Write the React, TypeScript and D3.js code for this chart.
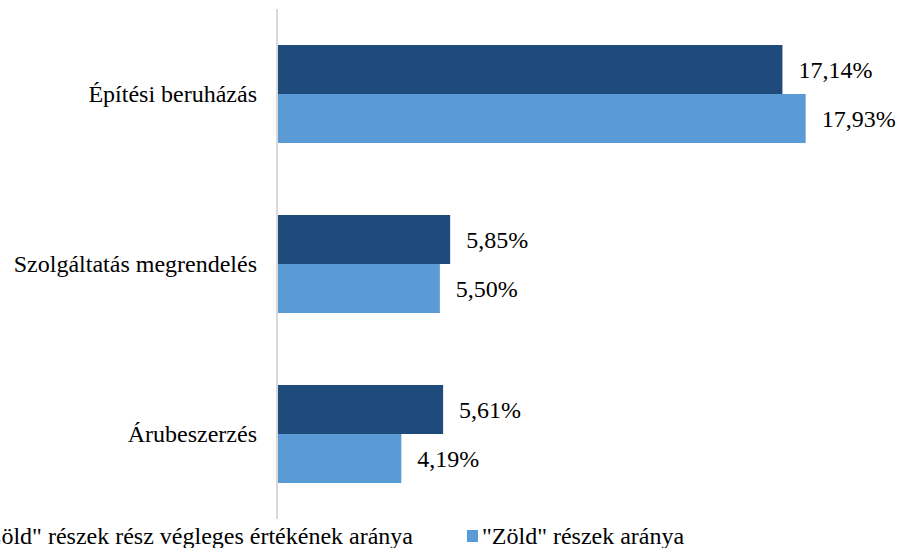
import * as React from 'react';
import * as d3 from 'd3';

const categories = ['Építési beruházás', 'Szolgáltatás megrendelés', 'Árubeszerzés'];
const seriesNames = ['"Zöld" részek rész végleges értékének aránya', '"Zöld" részek aránya'];
const finalShare = [17.14, 5.85, 5.61];
const greenShare = [17.93, 5.5, 4.19];
const colors = ['#1F4A7C', '#5B9BD5'];

const fmt = (v: number) => v.toFixed(2).replace('.', ',') + '%';

export default function App() {
  const width = 902;
  const height = 548;
  const x0 = 278;
  const x = d3.scaleLinear().domain([0, 10]).range([x0, x0 + 294.3]);
  const y = d3.scaleBand().domain(categories).range([9, 519]).paddingInner(0.4235).paddingOuter(0.2118);
  const sub = d3.scaleBand().domain(['0', '1']).range([0, y.bandwidth()]);
  const series = [finalShare, greenShare];
  const txt = { fontFamily: 'Liberation Serif', fontSize: '24px', fill: '#000' };

  return (
    <svg width={width} height={height} style={{ position: 'absolute', left: 0, top: 0 }}>
      {series.map((vals, si) => (
        <g key={si}>
          {categories.map((c, i) => {
            const yy = (y(c) as number) + (sub(String(si)) as number);
            return (
              <g key={c}>
                <rect x={x(0)} y={yy} width={x(vals[i]) - x(0)} height={sub.bandwidth()} fill={colors[si]} />
                <text x={x(vals[i]) + 16} y={yy + sub.bandwidth() / 2} dy="0.35em" style={txt}>
                  {fmt(vals[i])}
                </text>
              </g>
            );
          })}
        </g>
      ))}
      <line x1={277} x2={277} y1={9} y2={519} stroke="#D9D9D9" strokeWidth={2} />
      {categories.map((c) => (
        <text key={c} x={257} y={(y(c) as number) + y.bandwidth() / 2} dy="0.35em" textAnchor="end" style={txt}>
          {c}
        </text>
      ))}
      <g>
        <rect x={-30} y={530} width={12} height={12} fill={colors[0]} />
        <text x={413} y={544} textAnchor="end" style={txt}>{seriesNames[0]}</text>
        <rect x={467} y={530} width={11} height={12} fill={colors[1]} />
        <text x={482} y={544} style={txt}>{seriesNames[1]}</text>
      </g>
    </svg>
  );
}
